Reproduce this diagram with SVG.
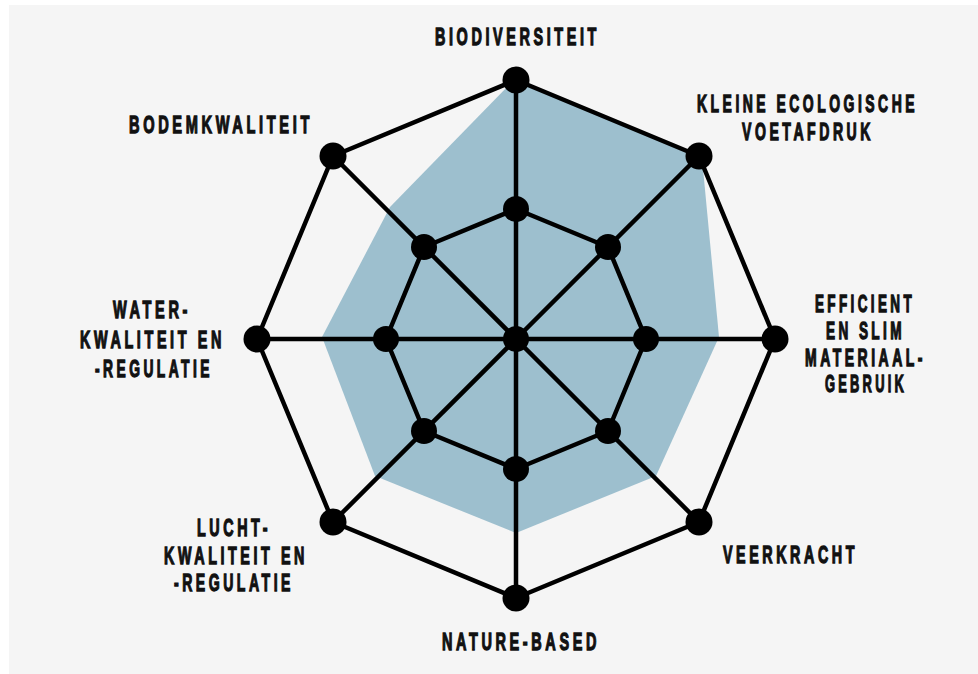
<svg xmlns="http://www.w3.org/2000/svg" width="978" height="674" viewBox="0 0 978 674">
<style>
.bg{fill:#f5f5f5}
.area{fill:#9dbfce}
.ln{stroke:#000;stroke-width:4.5;fill:none;stroke-linejoin:round}
.dot{fill:#000}
.lbl{font-family:"Liberation Sans",Arial,sans-serif;font-weight:bold;font-size:24px;letter-spacing:6px;fill:#111;stroke:#111;stroke-width:1.3}
</style>
<rect x="0" y="0" width="978" height="674" fill="#ffffff"/>
<rect class="bg" x="9" y="5" width="969" height="669"/>
<polygon id="score-area" class="area" points="514,80 702,158 719,337 656,476 516,533 375,476 322,337 390,207"/>
<g id="connectors">
<polygon class="ln" points="516,80 699,156 775,339 699,522 516,598 333,522 257,339 333,156"/>
<polygon class="ln" points="516,209 608,247 646,339 608,431 516,469 424,431 386,339 424,247"/>
<line class="ln" x1="516" y1="339" x2="516" y2="80"/>
<line class="ln" x1="516" y1="339" x2="699" y2="156"/>
<line class="ln" x1="516" y1="339" x2="775" y2="339"/>
<line class="ln" x1="516" y1="339" x2="699" y2="522"/>
<line class="ln" x1="516" y1="339" x2="516" y2="598"/>
<line class="ln" x1="516" y1="339" x2="333" y2="522"/>
<line class="ln" x1="516" y1="339" x2="257" y2="339"/>
<line class="ln" x1="516" y1="339" x2="333" y2="156"/>
</g>
<g id="center"><circle class="dot" cx="516" cy="339" r="13"/></g>
<g id="biodiversiteit">
<circle class="dot" cx="516" cy="80" r="13.5"/>
<circle class="dot" cx="516" cy="209" r="13"/>
<text class="lbl" transform="translate(435,45) scale(0.5,1)" textLength="330" lengthAdjust="spacingAndGlyphs">BIODIVERSITEIT</text>
</g>
<g id="kleine-ecologische-voetafdruk">
<circle class="dot" cx="699" cy="156" r="13.5"/>
<circle class="dot" cx="608" cy="247" r="13"/>
<text class="lbl" transform="translate(697,112) scale(0.5,1)" textLength="442" lengthAdjust="spacingAndGlyphs">KLEINE ECOLOGISCHE</text>
<text class="lbl" transform="translate(742,140) scale(0.5,1)" textLength="264" lengthAdjust="spacingAndGlyphs">VOETAFDRUK</text>
</g>
<g id="efficient-materiaalgebruik">
<circle class="dot" cx="775" cy="339" r="13.5"/>
<circle class="dot" cx="646" cy="339" r="13"/>
<text class="lbl" transform="translate(815,312) scale(0.5,1)" textLength="200" lengthAdjust="spacingAndGlyphs">EFFICIENT</text>
<text class="lbl" transform="translate(826,339) scale(0.5,1)" textLength="158" lengthAdjust="spacingAndGlyphs">EN SLIM</text>
<text class="lbl" transform="translate(805,366) scale(0.5,1)" textLength="242" lengthAdjust="spacingAndGlyphs">MATERIAAL-</text>
<text class="lbl" transform="translate(825,392) scale(0.5,1)" textLength="164" lengthAdjust="spacingAndGlyphs">GEBRUIK</text>
</g>
<g id="veerkracht">
<circle class="dot" cx="699" cy="522" r="13.5"/>
<circle class="dot" cx="608" cy="431" r="13"/>
<text class="lbl" transform="translate(723,563) scale(0.5,1)" textLength="270" lengthAdjust="spacingAndGlyphs">VEERKRACHT</text>
</g>
<g id="nature-based">
<circle class="dot" cx="516" cy="598" r="13.5"/>
<circle class="dot" cx="516" cy="469" r="13"/>
<text class="lbl" transform="translate(442,650) scale(0.5,1)" textLength="316" lengthAdjust="spacingAndGlyphs">NATURE-BASED</text>
</g>
<g id="luchtkwaliteit">
<circle class="dot" cx="333" cy="522" r="13.5"/>
<circle class="dot" cx="424" cy="431" r="13"/>
<text class="lbl" transform="translate(197,536) scale(0.5,1)" textLength="148" lengthAdjust="spacingAndGlyphs">LUCHT-</text>
<text class="lbl" transform="translate(164,564) scale(0.5,1)" textLength="288" lengthAdjust="spacingAndGlyphs">KWALITEIT EN</text>
<text class="lbl" transform="translate(174,591) scale(0.5,1)" textLength="240" lengthAdjust="spacingAndGlyphs">-REGULATIE</text>
</g>
<g id="waterkwaliteit">
<circle class="dot" cx="257" cy="339" r="13.5"/>
<circle class="dot" cx="386" cy="339" r="13"/>
<text class="lbl" transform="translate(113,318) scale(0.5,1)" textLength="156" lengthAdjust="spacingAndGlyphs">WATER-</text>
<text class="lbl" transform="translate(80,348) scale(0.5,1)" textLength="290" lengthAdjust="spacingAndGlyphs">KWALITEIT EN</text>
<text class="lbl" transform="translate(95,377) scale(0.5,1)" textLength="236" lengthAdjust="spacingAndGlyphs">-REGULATIE</text>
</g>
<g id="bodemkwaliteit">
<circle class="dot" cx="333" cy="156" r="13.5"/>
<circle class="dot" cx="424" cy="247" r="13"/>
<text class="lbl" transform="translate(129,133) scale(0.5,1)" textLength="368" lengthAdjust="spacingAndGlyphs">BODEMKWALITEIT</text>
</g>
</svg>
